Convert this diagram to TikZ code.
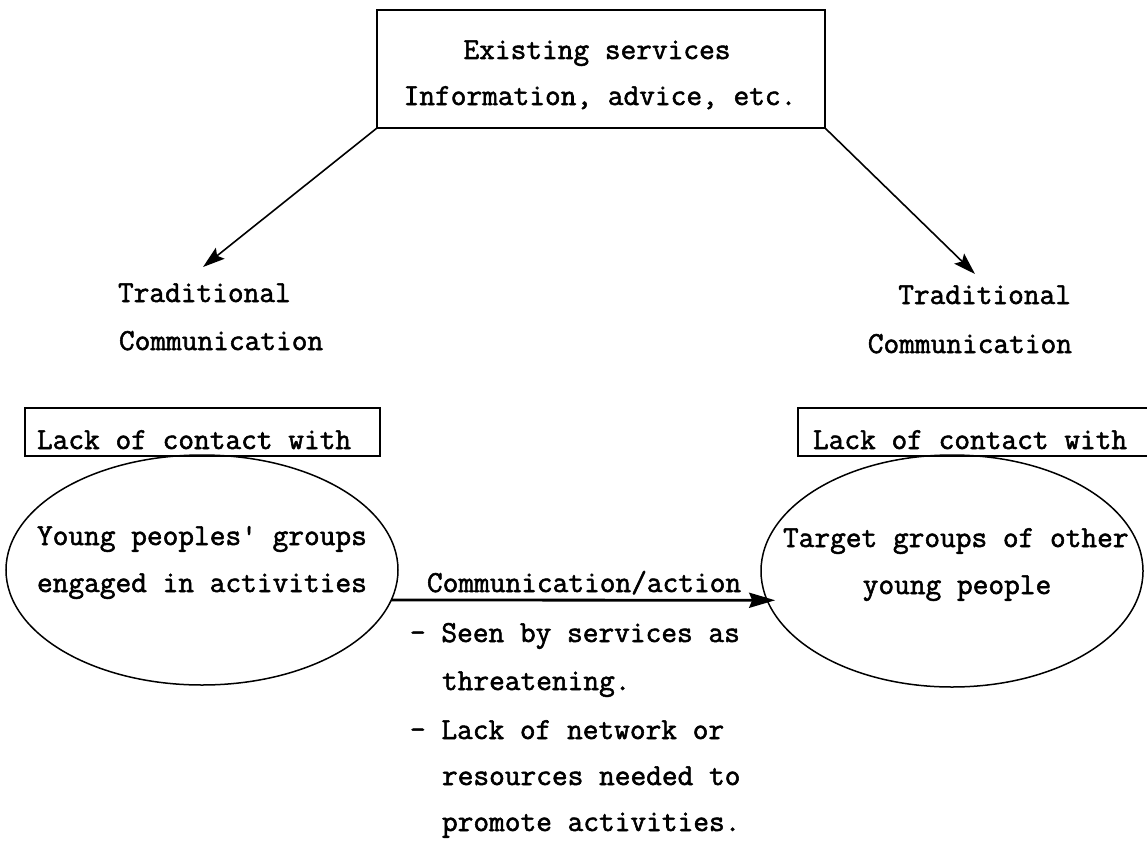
\documentclass[tikz,border=0pt]{standalone}
\usepackage{fontspec}
\setmainfont{Latin Modern Mono}[FakeBold=1.8]
\usetikzlibrary{shapes.geometric,arrows.meta}
\tikzset{
  txt/.style={inner sep=0pt, outer sep=0pt, font=\fontsize{30.5pt}{34pt}\selectfont},
  boxed/.style={draw, line width=1.6pt, inner sep=0pt, outer sep=0pt},
  grp/.style={draw, ellipse, line width=1.5pt, inner sep=0pt, outer sep=0pt},
  conn/.style={line width=1.6pt, -{Stealth[length=22pt,width=14pt,inset=4pt]}},
  mainconn/.style={line width=2.8pt, -{Stealth[length=26pt,width=15pt,inset=3pt]}},
}
\begin{document}
\begin{tikzpicture}[x=1pt,y=-1pt]
\useasboundingbox (0,0) rectangle (1147,843);
\clip (0,0) rectangle (1147,843);
% top box
\node[boxed, minimum width=448pt, minimum height=118pt] (svc) at (601,69) {};
\node[txt, anchor=base] (svc1) at (597,59) {Existing services};
\node[txt, anchor=base] (svc2) at (600,105) {Information, advice, etc.};
% traditional communication labels
\node[txt, anchor=base west] (tl1) at (118,302) {Traditional};
\node[txt, anchor=base west] (tl2) at (119,350) {Communication};
\node[txt, anchor=base east] (tr1) at (1071,304) {Traditional};
\node[txt, anchor=base east] (tr2) at (1072,353) {Communication};
\coordinate (tipL) at (203,267);
\coordinate (tipR) at (975,274);
\draw[conn] (svc.south west) -- (tipL);
\draw[conn] (svc.south east) -- (tipR);
% lack of contact boxes
\node[boxed, minimum width=355pt, minimum height=48pt] (lackL) at (202.5,432) {};
\node[txt, anchor=base west] (lackLt) at (37,449) {Lack of contact with};
\node[boxed, minimum width=362pt, minimum height=48pt] (lackR) at (979,432) {};
\node[txt, anchor=base west] (lackRt) at (813,449) {Lack of contact with};
% ellipses
\node[grp, minimum width=392pt, minimum height=230pt] (elL) at (202,570) {};
\node[grp, minimum width=382pt, minimum height=232pt] (elR) at (952,571) {};
\node[txt, anchor=base west] (yl1) at (37,545) {Young peoples\textquotesingle{} groups};
\node[txt, anchor=base west] (yl2) at (37,592) {engaged in activities};
\node[txt, anchor=base west] (yr1) at (783,547) {Target groups of other};
\node[txt, anchor=base] (yr2) at (957,594) {young people};
% main connector
\draw[mainconn, shorten >=-8pt] (elL.-9.6) -- (elR.189.6);
\node[txt, anchor=base west] (ca) at (427,592) {Communication/action};
\node[txt, anchor=base west] (b1) at (410,642) {- Seen by services as};
\node[txt, anchor=base west] (b2) at (442,690) {threatening.};
\node[txt, anchor=base west] (b3) at (410,739) {- Lack of network or};
\node[txt, anchor=base west] (b4) at (442,785) {resources needed to};
\node[txt, anchor=base west] (b5) at (442,831) {promote activities.};
\end{tikzpicture}
\end{document}
